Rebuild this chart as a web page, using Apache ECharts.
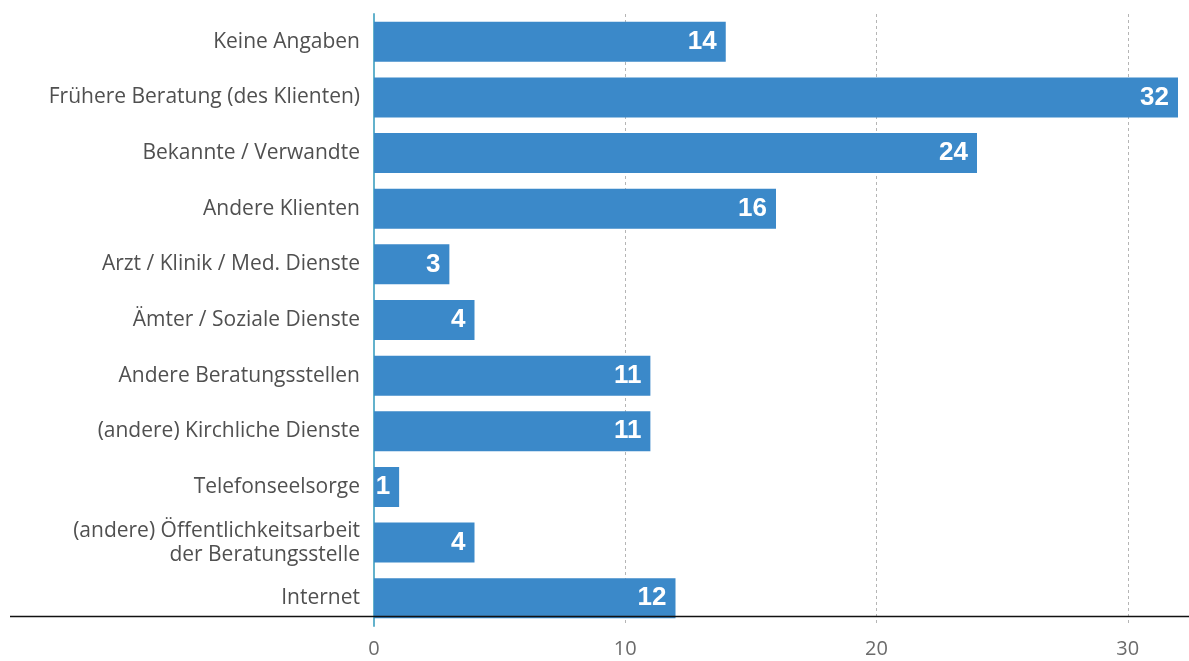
<!DOCTYPE html>
<html>
<head>
<meta charset="utf-8">
<script src="https://cdn.jsdelivr.net/npm/echarts@6/dist/echarts.min.js"></script>
<style>
  html, body { margin: 0; padding: 0; background: #ffffff; }
  #chart { width: 1189px; height: 661px; }
</style>
</head>
<body>
<div id="chart"></div>
<script>
// Wie sind die Klienten auf die Beratungsstelle aufmerksam geworden?
const categories = [
  'Keine Angaben',
  'Frühere Beratung (des Klienten)',
  'Bekannte / Verwandte',
  'Andere Klienten',
  'Arzt / Klinik / Med. Dienste',
  'Ämter / Soziale Dienste',
  'Andere Beratungsstellen',
  '(andere) Kirchliche Dienste',
  'Telefonseelsorge',
  '(andere) Öffentlichkeitsarbeit\nder Beratungsstelle',
  'Internet'
];
const counts = [14, 32, 24, 16, 3, 4, 11, 11, 1, 4, 12];
const xTicks = [0, 10, 20, 30];

const chart = echarts.init(document.getElementById('chart'), null, { renderer: 'canvas' });

chart.setOption({
  animation: false,
  backgroundColor: '#ffffff',
  grid: { left: 374, right: 11, top: 14, bottom: 35, containLabel: false },
  xAxis: {
    type: 'value',
    min: 0,
    max: 32,
    interval: 10,
    axisLine: { show: false },
    axisTick: { show: false },
    axisLabel: {
      color: '#6b6b6b',
      fontFamily: 'Open Sans',
      fontSize: 20,
      margin: 13,
      showMaxLabel: false,
      formatter: v => (xTicks.includes(v) ? String(v) : '')
    },
    splitLine: {
      show: true,
      showMinLine: false,
      showMaxLine: false,
      lineStyle: { color: '#b5b5b5', type: [3, 3], width: 1 }
    }
  },
  yAxis: {
    type: 'category',
    data: categories,
    inverse: true,
    axisLine: { show: true, lineStyle: { color: '#63b2cc', width: 2 } },
    axisTick: { show: false },
    axisLabel: {
      color: '#505050',
      fontFamily: 'Open Sans',
      fontSize: 21,
      lineHeight: 24,
      margin: 14,
      align: 'right'
    }
  },
  series: [{
    type: 'bar',
    data: counts,
    barWidth: 40,
    itemStyle: { color: '#3b89c9' },
    label: {
      show: true,
      position: 'insideRight',
      distance: 9,
      color: '#ffffff',
      fontFamily: 'Liberation Sans',
      fontWeight: 'bold',
      fontSize: 26
    }
  }],
  graphic: [{
    type: 'line',
    z: 50,
    shape: { x1: 10, y1: 616.5, x2: 1189, y2: 616.5 },
    style: { stroke: '#111111', lineWidth: 1.5 }
  }]
});
</script>
</body>
</html>
